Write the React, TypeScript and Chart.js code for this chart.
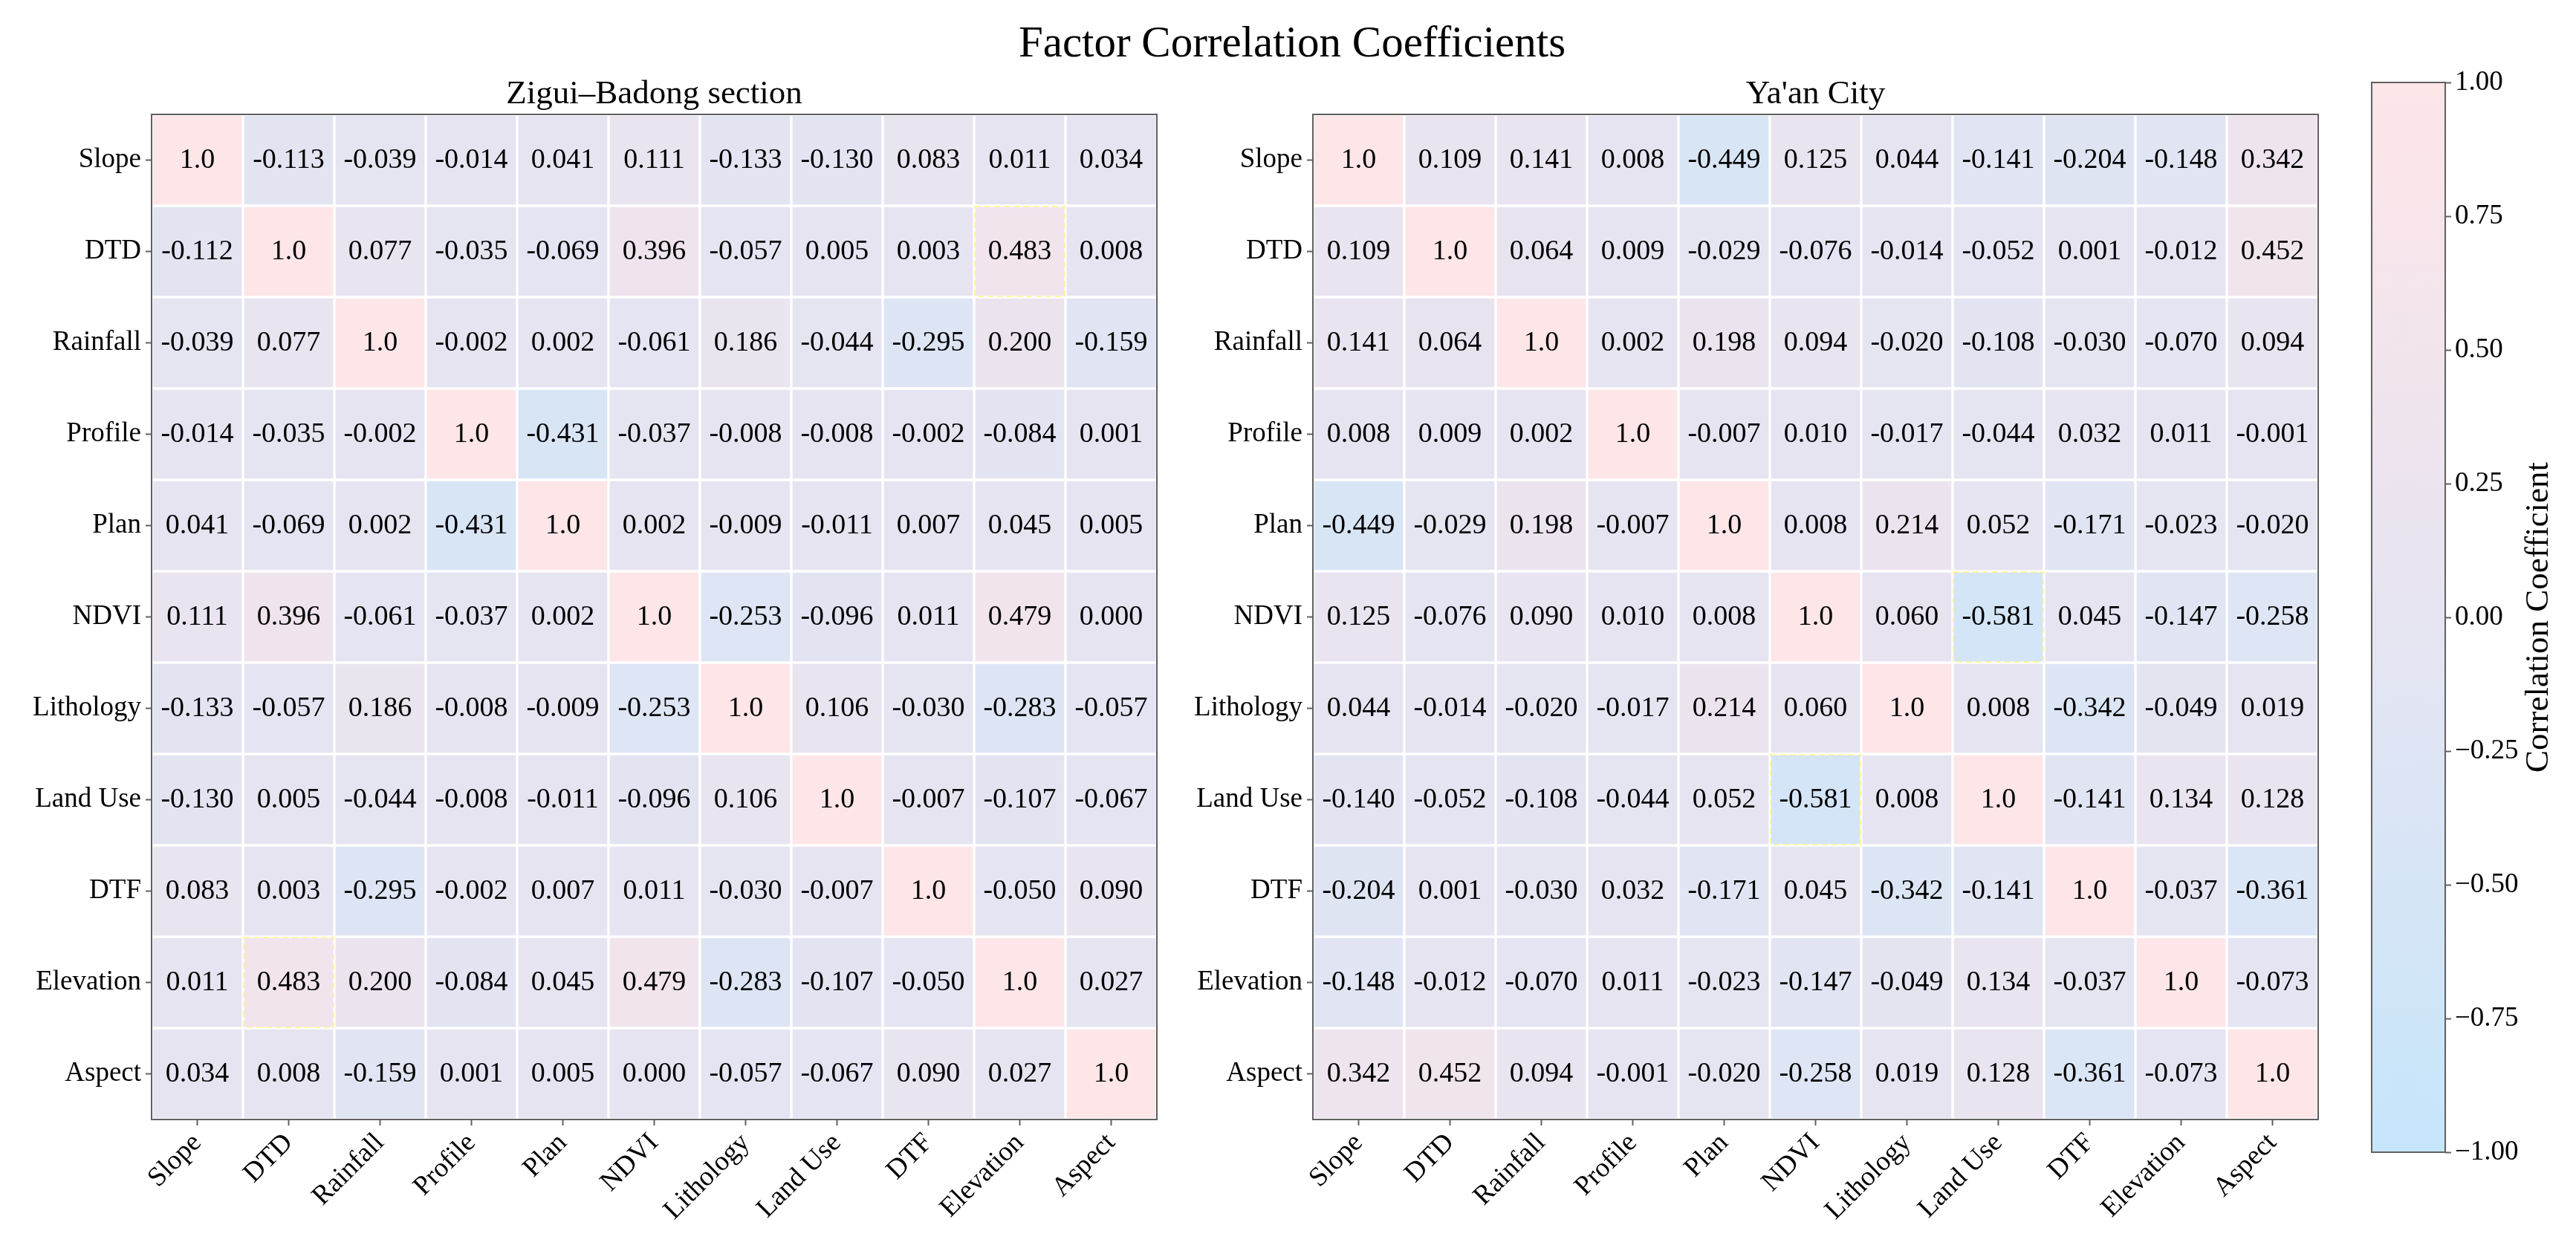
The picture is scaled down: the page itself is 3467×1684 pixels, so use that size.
import React, { useEffect, useRef } from "react";
import { Chart, registerables } from "chart.js";

Chart.register(...registerables);

const FONT = "'Liberation Serif', 'Times New Roman', serif";

const factors = ["Slope", "DTD", "Rainfall", "Profile", "Plan", "NDVI", "Lithology", "Land Use", "DTF", "Elevation", "Aspect"];

const mainTitle = "Factor Correlation Coefficients";
const leftTitle = "Zigui\u2013Badong section";
const rightTitle = "Ya'an City";
const colorbarLabel = "Correlation Coefficient";
const colorbarTicks = [-1, -0.75, -0.5, -0.25, 0, 0.25, 0.5, 0.75, 1];

const ziguiBadong = [
  [1.0, -0.113, -0.039, -0.014, 0.041, 0.111, -0.133, -0.130, 0.083, 0.011, 0.034],
  [-0.112, 1.0, 0.077, -0.035, -0.069, 0.396, -0.057, 0.005, 0.003, 0.483, 0.008],
  [-0.039, 0.077, 1.0, -0.002, 0.002, -0.061, 0.186, -0.044, -0.295, 0.200, -0.159],
  [-0.014, -0.035, -0.002, 1.0, -0.431, -0.037, -0.008, -0.008, -0.002, -0.084, 0.001],
  [0.041, -0.069, 0.002, -0.431, 1.0, 0.002, -0.009, -0.011, 0.007, 0.045, 0.005],
  [0.111, 0.396, -0.061, -0.037, 0.002, 1.0, -0.253, -0.096, 0.011, 0.479, 0.000],
  [-0.133, -0.057, 0.186, -0.008, -0.009, -0.253, 1.0, 0.106, -0.030, -0.283, -0.057],
  [-0.130, 0.005, -0.044, -0.008, -0.011, -0.096, 0.106, 1.0, -0.007, -0.107, -0.067],
  [0.083, 0.003, -0.295, -0.002, 0.007, 0.011, -0.030, -0.007, 1.0, -0.050, 0.090],
  [0.011, 0.483, 0.200, -0.084, 0.045, 0.479, -0.283, -0.107, -0.050, 1.0, 0.027],
  [0.034, 0.008, -0.159, 0.001, 0.005, 0.000, -0.057, -0.067, 0.090, 0.027, 1.0],
];

const yaanCity = [
  [1.0, 0.109, 0.141, 0.008, -0.449, 0.125, 0.044, -0.141, -0.204, -0.148, 0.342],
  [0.109, 1.0, 0.064, 0.009, -0.029, -0.076, -0.014, -0.052, 0.001, -0.012, 0.452],
  [0.141, 0.064, 1.0, 0.002, 0.198, 0.094, -0.020, -0.108, -0.030, -0.070, 0.094],
  [0.008, 0.009, 0.002, 1.0, -0.007, 0.010, -0.017, -0.044, 0.032, 0.011, -0.001],
  [-0.449, -0.029, 0.198, -0.007, 1.0, 0.008, 0.214, 0.052, -0.171, -0.023, -0.020],
  [0.125, -0.076, 0.090, 0.010, 0.008, 1.0, 0.060, -0.581, 0.045, -0.147, -0.258],
  [0.044, -0.014, -0.020, -0.017, 0.214, 0.060, 1.0, 0.008, -0.342, -0.049, 0.019],
  [-0.140, -0.052, -0.108, -0.044, 0.052, -0.581, 0.008, 1.0, -0.141, 0.134, 0.128],
  [-0.204, 0.001, -0.030, 0.032, -0.171, 0.045, -0.342, -0.141, 1.0, -0.037, -0.361],
  [-0.148, -0.012, -0.070, 0.011, -0.023, -0.147, -0.049, 0.134, -0.037, 1.0, -0.073],
  [0.342, 0.452, 0.094, -0.001, -0.020, -0.258, 0.019, 0.128, -0.361, -0.073, 1.0],
];

// colormap stops: -1, 0, +1
const cmapStops: [number, number, number][] = [
  [198, 230, 251],
  [230, 228, 241],
  [253, 229, 232],
];

function colorFor(v: number): string {
  const t = Math.max(-1, Math.min(1, v));
  const a = cmapStops[1];
  const b = t < 0 ? cmapStops[0] : cmapStops[2];
  const f = Math.abs(t);
  const c = a.map((x, i) => Math.round(x + (b[i] - x) * f));
  return `rgb(${c[0]},${c[1]},${c[2]})`;
}

function fmt(v: number): string {
  return v === 1 ? "1.0" : v.toFixed(3);
}

function maxOffDiag(matrix: number[][]): number {
  let m = 0;
  matrix.forEach((row, r) => row.forEach((v, c) => {
    if (r !== c && Math.abs(v) > m) m = Math.abs(v);
  }));
  return m;
}

const framePlugin = {
  id: "frame",
  afterDraw(chart: any) {
    const { ctx, chartArea } = chart;
    ctx.save();
    ctx.strokeStyle = "#606060";
    ctx.lineWidth = 2;
    ctx.strokeRect(chartArea.left, chartArea.top, chartArea.right - chartArea.left, chartArea.bottom - chartArea.top);
    ctx.restore();
  },
};

const cellTextPlugin = {
  id: "cellText",
  afterDatasetsDraw(chart: any, _args: any, opts: any) {
    const { ctx } = chart;
    const matrix: number[][] = opts.matrix;
    if (!matrix) return;
    const peak = maxOffDiag(matrix);
    ctx.save();
    chart.data.datasets.forEach((ds: any, d: number) => {
      const meta = chart.getDatasetMeta(d);
      const r = ds.rowIndex;
      meta.data.forEach((el: any, c: number) => {
        const p = el.getProps(["x", "y", "base", "width"], true);
        const v = matrix[r][c];
        if (r !== c && Math.abs(v) === peak) {
          ctx.save();
          ctx.strokeStyle = "rgba(255, 245, 150, 0.9)";
          ctx.lineWidth = 2;
          ctx.setLineDash([8, 5]);
          const top = Math.min(p.y, p.base);
          const h = Math.abs(p.base - p.y);
          ctx.strokeRect(p.x - p.width / 2 + 1, top + 1, p.width - 2, h - 2);
          ctx.restore();
        }
        ctx.font = `38px ${FONT}`;
        ctx.fillStyle = "#000";
        ctx.textAlign = "center";
        ctx.textBaseline = "middle";
        ctx.fillText(fmt(v), p.x, (p.y + p.base) / 2 + 1);
      });
    });
    ctx.restore();
  },
};

function heatmapConfig(matrix: number[][], title: string, padRight: number): any {
  const n = factors.length;
  const datasets = [];
  for (let d = 0; d < n; d++) {
    const r = n - 1 - d; // bottom dataset is last row
    datasets.push({
      rowIndex: r,
      label: factors[r],
      data: factors.map(() => 1),
      backgroundColor: matrix[r].map((v) => colorFor(v)),
      borderColor: "#ffffff",
      borderWidth: 2,
      borderSkipped: false,
      barPercentage: 1,
      categoryPercentage: 1,
    });
  }
  return {
    type: "bar",
    data: { labels: factors, datasets },
    plugins: [cellTextPlugin, framePlugin],
    options: {
      responsive: false,
      animation: false,
      devicePixelRatio: 1,
      layout: { padding: { top: 100, right: padRight, bottom: 0, left: 0 } },
      plugins: {
        legend: { display: false },
        tooltip: { enabled: false },
        title: {
          display: true,
          text: title,
          fullSize: false,
          color: "#000",
          font: { family: FONT, size: 45, weight: "normal", lineHeight: 1.2 },
          padding: { top: 0, bottom: 0 },
        },
        cellText: { matrix },
      },
      scales: {
        x: {
          stacked: true,
          offset: true,
          grid: { display: true, drawOnChartArea: false, drawTicks: true, offset: false, tickLength: 8, tickColor: "#606060", tickWidth: 2 },
          border: { display: false },
          ticks: {
            autoSkip: false,
            maxRotation: 45,
            minRotation: 45,
            color: "#000",
            padding: 2,
            font: { family: FONT, size: 37 },
          },
          afterFit: (scale: any) => {
            scale.height = 177;
          },
        },
        y: {
          type: "linear",
          stacked: true,
          min: 0,
          max: n,
          grid: { display: true, drawOnChartArea: false, drawTicks: true, tickLength: 8, tickColor: "#606060", tickWidth: 2 },
          border: { display: false },
          afterBuildTicks: (scale: any) => {
            scale.ticks = factors.map((_, i) => ({ value: i + 0.5 }));
          },
          ticks: {
            color: "#000",
            padding: 6,
            font: { family: FONT, size: 37 },
            callback: (value: number) => factors[n - 1 - Math.floor(value)],
          },
          afterFit: (scale: any) => {
            scale.width = 204;
          },
        },
      },
    },
  };
}

const colorbarLabelPlugin = {
  id: "cbLabel",
  afterDraw(chart: any) {
    const { ctx, chartArea } = chart;
    ctx.save();
    ctx.font = `45px ${FONT}`;
    ctx.fillStyle = "#000";
    ctx.textAlign = "center";
    ctx.textBaseline = "middle";
    ctx.translate(chartArea.right + 126, (chartArea.top + chartArea.bottom) / 2);
    ctx.rotate(-Math.PI / 2);
    ctx.fillText(colorbarLabel, 0, 0);
    ctx.restore();
  },
};

function colorbarConfig(): any {
  return {
    type: "bar",
    data: {
      labels: [""],
      datasets: [
        {
          data: [[colorbarTicks[0], colorbarTicks[colorbarTicks.length - 1]]],
          backgroundColor: (context: any) => {
            const chart = context.chart;
            const area = chart.chartArea;
            if (!area) return colorFor(0);
            const g = chart.ctx.createLinearGradient(0, area.bottom, 0, area.top);
            g.addColorStop(0, colorFor(-1));
            g.addColorStop(0.5, colorFor(0));
            g.addColorStop(1, colorFor(1));
            return g;
          },
          borderWidth: 0,
          barPercentage: 1,
          categoryPercentage: 1,
        },
      ],
    },
    plugins: [framePlugin, colorbarLabelPlugin],
    options: {
      responsive: false,
      animation: false,
      devicePixelRatio: 1,
      layout: { padding: { top: 111, right: 0, bottom: 133, left: 92 } },
      plugins: { legend: { display: false }, tooltip: { enabled: false }, title: { display: false } },
      scales: {
        x: { display: false },
        y: {
          position: "right",
          min: -1,
          max: 1,
          grid: { display: true, drawOnChartArea: false, drawTicks: true, tickLength: 8, tickColor: "#606060", tickWidth: 2 },
          border: { display: false },
          afterBuildTicks: (scale: any) => {
            scale.ticks = colorbarTicks.map((v) => ({ value: v }));
          },
          ticks: {
            color: "#000",
            padding: 5,
            font: { family: FONT, size: 37 },
            callback: (v: number) => (v < 0 ? "\u2212" : "") + Math.abs(v).toFixed(2),
          },
          afterFit: (scale: any) => {
            scale.width = 176;
          },
        },
      },
    },
  };
}

function ChartCanvas({ config, left, width, height }: { config: () => any; left: number; width: number; height: number }) {
  const ref = useRef<HTMLCanvasElement | null>(null);
  useEffect(() => {
    if (!ref.current) return;
    const chart = new Chart(ref.current, config());
    return () => chart.destroy();
  }, []);
  return <canvas ref={ref} width={width} height={height} style={{ position: "absolute", left, top: 0, width, height }} />;
}

export default function App() {
  return (
    <div style={{ position: "fixed", left: 0, top: 0, width: 3467, height: 1684, background: "#fff", overflow: "hidden" }}>
      <div
        style={{
          position: "absolute",
          left: 1139,
          top: 27,
          width: 1200,
          textAlign: "center",
          fontFamily: FONT,
          fontSize: 59,
          lineHeight: "59px",
          color: "#000",
          whiteSpace: "nowrap",
        }}
      >
        {mainTitle}
      </div>
      <ChartCanvas config={() => heatmapConfig(ziguiBadong, leftTitle, 103)} left={0} width={1660} height={1684} />
      <ChartCanvas config={() => heatmapConfig(yaanCity, rightTitle, 43)} left={1563} width={1600} height={1684} />
      <ChartCanvas config={colorbarConfig} left={3100} width={367} height={1684} />
    </div>
  );
}
